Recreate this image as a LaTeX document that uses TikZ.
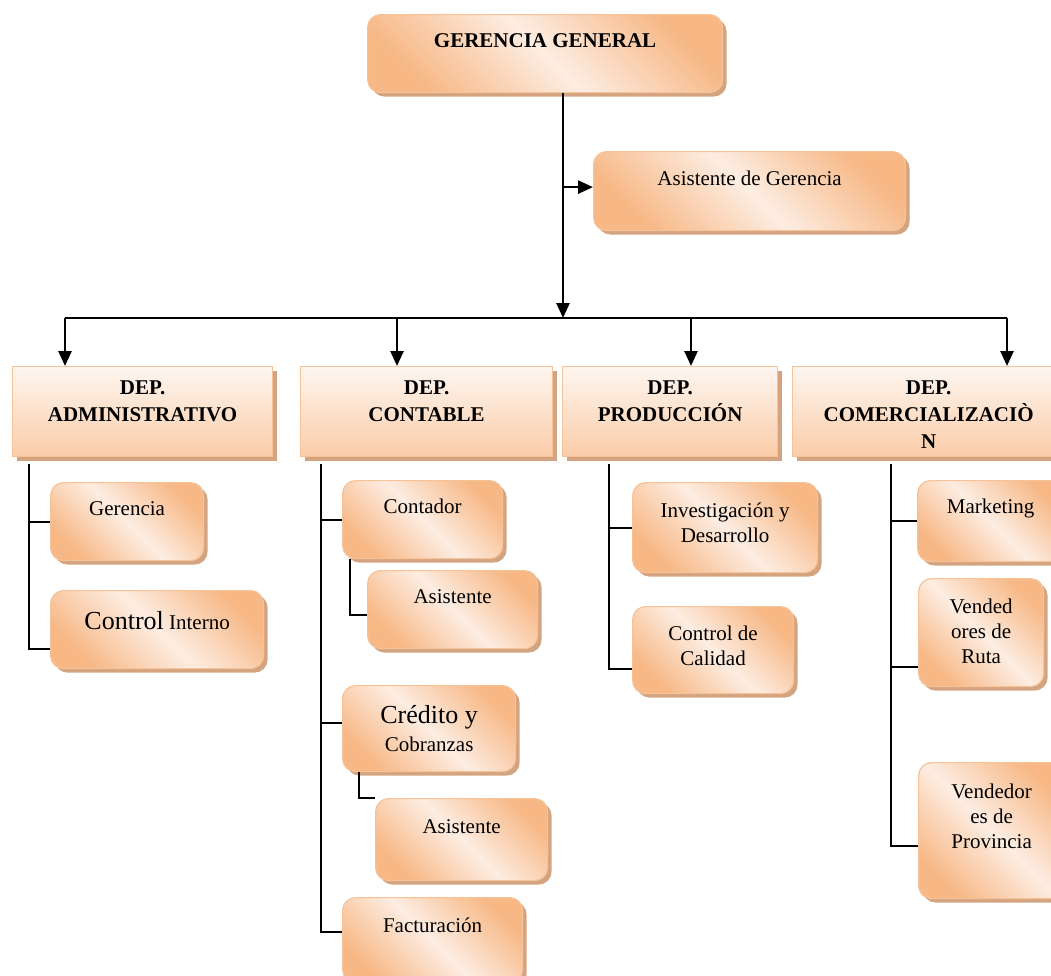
\documentclass[tikz,border=0pt]{standalone}
\usepackage{fontspec}
\setmainfont{Liberation Serif}
\usetikzlibrary{shadows,arrows.meta,calc}
\definecolor{orgc}{RGB}{247,184,134}
\definecolor{litc}{RGB}{253,237,226}
\definecolor{edgec}{RGB}{246,194,152}
\definecolor{shadc}{RGB}{212,164,128}
\definecolor{deptop}{RGB}{254,246,240}
\definecolor{depbot}{RGB}{250,204,168}
\newcommand\bt[4]{\parbox[c][#2pt][t]{#1pt}{\centering\vspace*{#3pt}\strut#4\par}}
\tikzset{
  rbox/.style={rectangle, rounded corners=13pt, draw=edgec, line width=1.2pt,
    top color=orgc, bottom color=orgc, middle color=litc, shading angle=-45,
    drop shadow={shadow xshift=4pt, shadow yshift=-4pt, fill=shadc, opacity=1},
    inner sep=0pt, anchor=north west, font=\fontsize{21}{25}\selectfont},
  dbox/.style={rectangle, draw=edgec, line width=1.2pt,
    top color=deptop, bottom color=depbot,
    drop shadow={shadow xshift=4pt, shadow yshift=-4pt, fill=shadc, opacity=1},
    inner sep=0pt, anchor=north west, font=\fontsize{21}{27}\selectfont\bfseries},
  arr/.style={line width=2.6pt, -{Triangle[length=15pt,width=13pt]}},
  tree/.style={line width=2.2pt},
}
\begin{document}
\begin{tikzpicture}[x=1pt,y=-1pt]
\clip (0,0) rectangle (1051,975);
% top
\node[rbox] (GG) at (367,14) {\bt{355}{78}{15.5}{\textbf{GERENCIA GENERAL}}};
\node[rbox] (AG) at (593,151) {\bt{312}{79}{16.5}{Asistente de Gerencia}};
% departments
\node[dbox] (DA) at (12,366) {\bt{260}{90}{9}{DEP.\\ADMINISTRATIVO}};
\node[dbox] (DC) at (300,366) {\bt{252}{90}{9}{DEP.\\CONTABLE}};
\node[dbox] (DP) at (562,366) {\bt{215}{90}{9}{DEP.\\PRODUCCIÓN}};
\node[dbox] (DM) at (792,366) {\bt{272}{90}{9}{DEP.\\COMERCIALIZACIÒ\\N}};
% administrativo
\node[rbox] (Ger) at (50,482) {\bt{153}{78}{15.5}{Gerencia}};
\node[rbox] (CI) at (50,590) {\bt{213}{78}{20.5}{{\fontsize{26}{25}\selectfont Control} Interno}};
% contable
\node[rbox] (Cont) at (342,480) {\bt{160}{78}{15.5}{Contador}};
\node[rbox] (As1) at (367,570) {\bt{170}{78}{15.5}{Asistente}};
\node[rbox, font=\fontsize{21}{28}\selectfont] (Cred) at (342,685) {\bt{173}{86}{18}{{\fontsize{26}{28}\selectfont Crédito y}\\Cobranzas}};
\node[rbox] (As2) at (375,798) {\bt{172}{82}{17.5}{Asistente}};
\node[rbox] (Fact) at (342,897) {\bt{180}{85}{17.5}{Facturación}};
% produccion
\node[rbox] (Inv) at (632,482) {\bt{185}{90}{17.5}{Investigación y\\Desarrollo}};
\node[rbox] (CC) at (632,606) {\bt{161}{87}{16.5}{Control de\\Calidad}};
% comercializacion
\node[rbox] (Mkt) at (917,480) {\bt{146}{81}{15.5}{Marketing}};
\node[rbox] (VR) at (918,578) {\bt{125}{108}{17.5}{Vended\\ores de\\Ruta}};
\node[rbox] (VP) at (918,762) {\bt{146}{136}{18.5}{Vendedor\\es de\\Provincia}};
% connectors top
\coordinate (bus) at (563,318);
\coordinate (b1) at (65,318);
\coordinate (b2) at (397,318);
\coordinate (b3) at (691,318);
\coordinate (b4) at (1007,318);
\draw[arr] (GG.south -| bus) -- (bus);
\draw[arr] ($(AG.west -| bus)+(0,-4)$) -- ($(AG.west)+(0,-4)$);
\draw[line width=2.6pt] (b1) -- (b4);
\draw[arr] (b1) -- (b1 |- DA.north);
\draw[arr] (b2) -- (b2 |- DC.north);
\draw[arr] (b3) -- (b3 |- DP.north);
\draw[arr] (b4) -- (b4 |- DM.north);
% tree lines
\coordinate (t1) at (29,464);
\coordinate (t2) at (321,464);
\coordinate (t3) at (609,464);
\coordinate (t4) at (891,464);
\draw[tree] (t1) |- (Ger.west);
\draw[tree] (t1) |- ($(CI.south west)+(0,-20)$);
\draw[tree] (t2) |- (Cont.west);
\draw[tree] (t2) |- ($(Cred.west)+(0,-6)$);
\draw[tree] (t2) |- ($(Fact.north west)+(0,35)$);
\draw[tree] ($(Cont.south west)+(8,0)$) |- ($(As1.west)+(0,5)$);
\draw[tree] ($(Cred.south west)+(17,0)$) |- (As2.north west);
\draw[tree] (t3) |- (Inv.west);
\draw[tree] (t3) |- ($(CC.south west)+(0,-25)$);
\draw[tree] (t4) |- (Mkt.west);
\draw[tree] (t4) |- ($(VR.south west)+(0,-20)$);
\draw[tree] (t4) |- ($(VP.south west)+(0,-53)$);
\end{tikzpicture}
\end{document}
